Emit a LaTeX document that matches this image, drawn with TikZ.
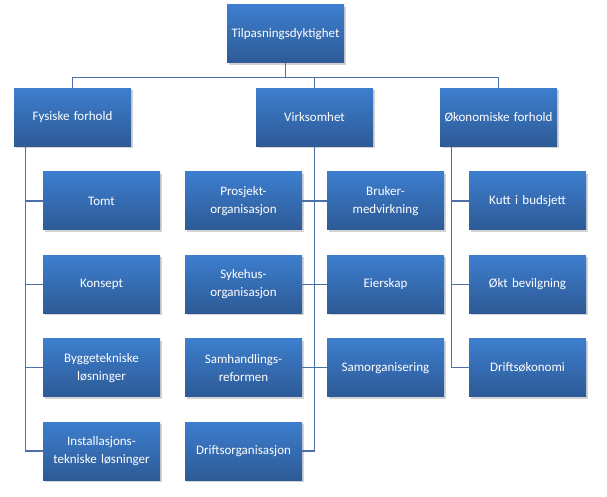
\documentclass[tikz,border=0pt]{standalone}
\usepackage{fontspec}
\setmainfont{Carlito}
\usetikzlibrary{positioning, shadows}
\definecolor{boxtop}{RGB}{61,126,206}
\definecolor{boxbottom}{RGB}{45,90,150}
\definecolor{linkblue}{RGB}{78,112,168}
\tikzstyle{orgbox} = [
	rectangle,
	minimum width=117pt,
	minimum height=58pt,
	text width=110pt,
	inner sep=3.5pt,
	align=center,
	top color=boxtop,
	bottom color=boxbottom,
	text=white,
	font=\fontsize{13}{18}\selectfont,
	drop shadow={opacity=0.35, shadow xshift=1.5pt, shadow yshift=-2pt}
]
\tikzstyle{link} = [draw=linkblue, line width=1.3pt]

\begin{document}
\begin{tikzpicture}[x=1pt, y=1pt, node distance=25pt]
		\useasboundingbox (0,0) rectangle (607,496);

		\node (tilpasning) [orgbox] at (285.5,462) {Tilpasningsdyktighet};

		\node (fysiske) [orgbox] at (72.5,378.5) {Fysiske forhold};
		\node (virksomhet) [orgbox] at (314.5,378.5) {Virksomhet};
		\node (okonomi) [orgbox] at (498.5,378.5) {Økonomiske forhold};

		\node (tomt) [orgbox, below=of fysiske, xshift=29pt] {Tomt};
		\node (konsept) [orgbox, below=of tomt] {Konsept};
		\node (byggtek) [orgbox, below=of konsept] {Byggetekniske\\løsninger};
		\node (installtek) [orgbox, below=of byggtek] {Installasjons-\\tekniske løsninger};

		\node (prosjektorg) [orgbox, below=of virksomhet, xshift=-71pt] {Prosjekt-\\organisasjon};
		\node (sykehusorg) [orgbox, below=of prosjektorg] {Sykehus-\\organisasjon};
		\node (samhandling) [orgbox, below=of sykehusorg] {Samhandlings-\\reformen};
		\node (driftsorg) [orgbox, below=of samhandling] {Driftsorganisasjon};
		\node (brukermed) [orgbox, below=of virksomhet, xshift=71pt] {Bruker-\\medvirkning};
		\node (eierskap) [orgbox, below=of brukermed] {Eierskap};
		\node (samorg) [orgbox, below=of eierskap] {Samorganisering};

		\node (kutt) [orgbox, below=of okonomi, xshift=29pt] {Kutt i budsjett};
		\node (bevilgning) [orgbox, below=of kutt] {Økt bevilgning};
		\node (driftsokonomi) [orgbox, below=of bevilgning] {Driftsøkonomi};

		\coordinate (fork) at ([yshift=-14pt]tilpasning.south);
		\coordinate (fysiskestem) at ([xshift=12pt]fysiske.south west);
		\coordinate (okonomistem) at ([xshift=12pt]okonomi.south west);

		\begin{scope}[on background layer/.try]
		\draw [link] (tilpasning.south) -- (fork) -| (fysiske.north);
		\draw [link] (fork) -| (virksomhet.north);
		\draw [link] (fork) -| (okonomi.north);

		\draw [link] (fysiskestem) |- (tomt.west);
		\draw [link] (fysiskestem) |- (konsept.west);
		\draw [link] (fysiskestem) |- (byggtek.west);
		\draw [link] (fysiskestem) |- (installtek.west);

		\draw [link] (virksomhet.south) |- (prosjektorg.east);
		\draw [link] (virksomhet.south) |- (sykehusorg.east);
		\draw [link] (virksomhet.south) |- (samhandling.east);
		\draw [link] (virksomhet.south) |- (driftsorg.east);
		\draw [link] (virksomhet.south) |- (brukermed.west);
		\draw [link] (virksomhet.south) |- (eierskap.west);
		\draw [link] (virksomhet.south) |- (samorg.west);

		\draw [link] (okonomistem) |- (kutt.west);
		\draw [link] (okonomistem) |- (bevilgning.west);
		\draw [link] (okonomistem) |- (driftsokonomi.west);
		\end{scope}

	\end{tikzpicture}
\end{document}
